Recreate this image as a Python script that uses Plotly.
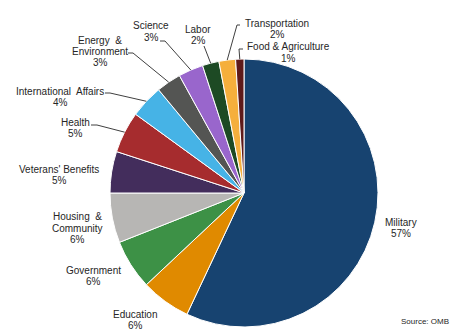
import math
import plotly.graph_objects as go

# ---- data ----
categories = ["Military", "Education", "Government", "Housing & Community",
              "Veterans' Benefits", "Health", "International Affairs",
              "Energy & Environment", "Science", "Labor", "Transportation",
              "Food & Agriculture"]
shares = [57, 6, 6, 6, 5, 5, 4, 3, 3, 2, 2, 1]
label_text = [["Military"], ["Education"], ["Government"], ["Housing\u00a0 &", "Community"],
              ["Veterans' Benefits"], ["Health"], ["International\u00a0 Affairs"],
              ["Energy\u00a0 &", "Environment"], ["Science"], ["Labor"],
              ["Transportation"], ["Food & Agriculture"]]
source_note = "Source: OMB"

# ---- styles / layout ----
colors = ["#174370", "#E08A00", "#3D9146", "#B7B6B4", "#432D5C", "#A62C2E",
          "#46B3E6", "#545553", "#9966CC", "#1D4A24", "#F5AF3C", "#5E1A1A"]
W, H = 467, 336
CX, CY, R = 244, 193, 134
LINE_H = 11
label_pos = [(401, 222), (135, 314), (93, 270), (77, 217), (59, 169), (75, 122),
             (60, 91), (100, 40), (151, 26), (198, 29), (277, 24), (288, 47)]
leader_pts = [None, None, None, None, None,
              [(91, 125), (97, 125)],
              [(105, 93), (110, 93)],
              [(128, 53), (133, 53)],
              [(160, 41), (165, 41)],
              [(204, 46)],
              [(240, 25), (237, 25)],
              [(243, 49), (239, 49)]]

def px(x):
    return x / W

def py(y):
    return (H - y) / H

fig = go.Figure(go.Pie(
    labels=categories, values=shares, sort=False, direction="clockwise",
    rotation=0, textinfo="none", hoverinfo="label+percent",
    marker=dict(colors=colors, line=dict(color="white", width=1)),
    domain=dict(x=[px(CX - R), px(CX + R)], y=[py(CY + R), py(CY - R)]),
    showlegend=False,
))

annotations = []
shapes = []
total = sum(shares)
cum = 0
for i, (cat, v) in enumerate(zip(categories, shares)):
    mid = (cum + v / 2) / total * 2 * math.pi
    cum += v
    lines = label_text[i] + [f"{v}%"]
    lx, ly = label_pos[i]
    for k, t in enumerate(lines):
        annotations.append(dict(
            x=px(lx), y=py(ly + k * LINE_H), xref="paper", yref="paper",
            text=t, showarrow=False, xanchor="center", yanchor="middle",
            font=dict(family="Arial, Liberation Sans", size=10, color="#262626")))
    if leader_pts[i]:
        ex = CX + R * math.sin(mid)
        ey = CY - R * math.cos(mid)
        pts = leader_pts[i] + [(ex, ey)]
        path = "M " + " L ".join(f"{px(x)},{py(y)}" for x, y in pts)
        shapes.append(dict(type="path", path=path, xref="paper", yref="paper",
                           line=dict(color="#404040", width=1)))

annotations.append(dict(
    x=px(425), y=py(321), xref="paper", yref="paper", text=source_note,
    showarrow=False, xanchor="center", yanchor="middle",
    font=dict(family="Arial, Liberation Sans", size=8, color="#262626")))

fig.update_layout(
    width=W, height=H, margin=dict(l=0, r=0, t=0, b=0),
    paper_bgcolor="white", plot_bgcolor="white",
    annotations=annotations, shapes=shapes,
)

fig.write_html("out.html")
